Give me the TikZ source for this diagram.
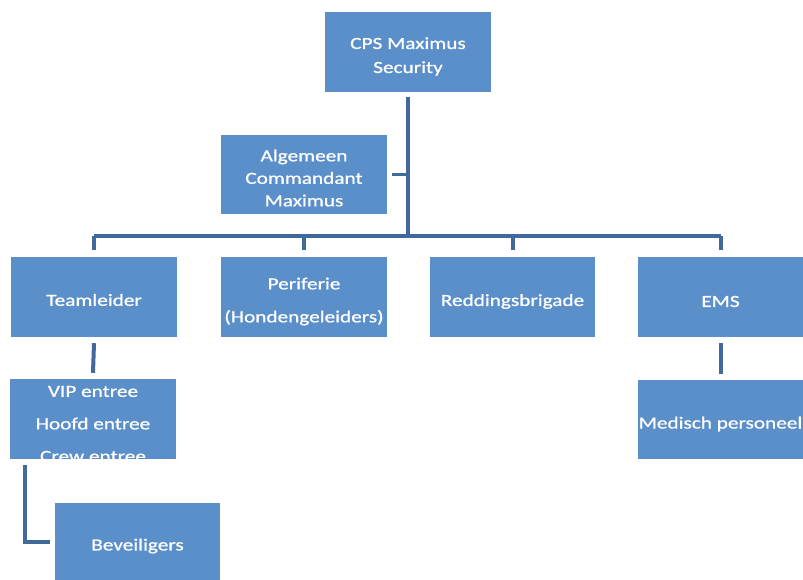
\documentclass[tikz,border=0pt]{standalone}
\usepackage{fontspec}
\setmainfont{Carlito}[FakeStretch=1.25, FakeBold=0.8]
\definecolor{boxblue}{HTML}{5B8FCA}
\definecolor{lineblue}{HTML}{41699A}
\begin{document}
\begin{tikzpicture}[x=1pt,y=-1pt,
  orgbox/.style={fill=boxblue, draw=none, minimum width=166pt, minimum height=80pt,
    inner sep=0pt},
  txt/.style={text=white, align=center, inner sep=0pt, yshift=-4.5pt, font=\fontsize{17}{22}\selectfont},
  link/.style={draw=lineblue, line width=4pt}]
\useasboundingbox (0,0) rectangle (803,580);
\fill[white] (0,0) rectangle (803,580);

\node[orgbox, label={[txt, font=\fontsize{17}{24}\selectfont]center:{CPS Maximus\\Security}}] (cps) at (408,52) {};
\node[orgbox, minimum height=79pt, label={[txt, yshift=1.5pt, font=\fontsize{17}{22.5}\selectfont]center:{Algemeen\\Commandant\\Maximus}}] (alg) at (304,175) {};
\node[orgbox, label={[txt, yshift=1.5pt]center:{Teamleider}}] (team) at (94,297) {};
\node[orgbox, label={[txt, font=\fontsize{17}{33}\selectfont]center:{Periferie\\(Hondengeleiders)}}] (peri) at (304,297) {};
\node[orgbox, minimum width=165pt, label={[txt]center:{Reddingsbrigade}}] (redd) at (512.5,297) {};
\node[orgbox, minimum width=165pt, label={[txt]center:{EMS}}] (ems) at (720.5,297) {};
\node[orgbox] (vip) at (93,419) {};
\begin{scope}
  \clip (vip.north west) rectangle (vip.south east);
  \node[txt, font=\fontsize{17}{32.5}\selectfont] (viptext) at (93,419.5) {VIP entree\\Hoofd entree\\Crew entree};
\end{scope}
\node[orgbox, minimum width=165pt, minimum height=79pt, label={[txt]center:{Medisch personeel}}] (med) at (720.5,419.5) {};
\node[orgbox, minimum width=165pt, minimum height=77pt, label={[txt]center:{Beveiligers}}] (bev) at (137.5,541.5) {};

\coordinate (bus) at (0,236);
\draw[link] ([yshift=-5pt]cps.south) -- (cps.south |- bus);
\draw[link] (team.north |- bus) -- (ems.north |- bus);
\draw[link, line width=3pt] ([xshift=5pt]alg.east) -- (cps.south |- alg.east);
\foreach \n in {team,peri,redd,ems}
  \draw[link] (\n.north |- bus) -- ([yshift=7pt]\n.north);
\draw[link] ([yshift=-6pt]team.south) -- ([yshift=6pt]vip.north);
\draw[link] ([yshift=-6pt]ems.south) -- ([yshift=6pt]med.north);
\draw[link] ([xshift=15pt,yshift=-6pt]vip.south west) |- ([xshift=-5pt]bev.west);
\end{tikzpicture}
\end{document}
